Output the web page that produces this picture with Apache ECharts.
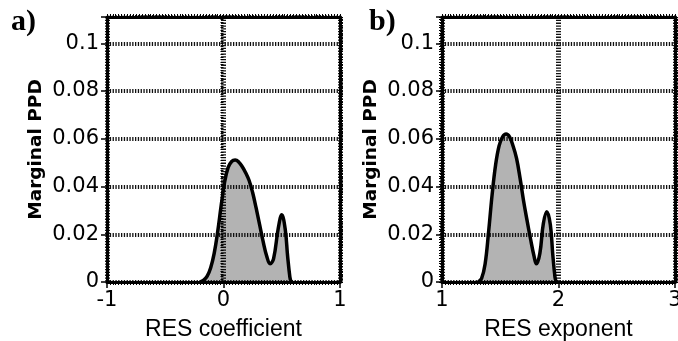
<!DOCTYPE html>
<html>
<head>
<meta charset="utf-8">
<script src="https://cdn.jsdelivr.net/npm/echarts@6/dist/echarts.min.js"></script>
<style>
  html, body { margin: 0; padding: 0; background: #fff; }
  #chart { width: 678px; height: 341px; }
</style>
</head>
<body>
<div id="chart"></div>
<script>
// Panel a) marginal posterior density of the RES coefficient
const coefX = [-0.2, -0.17, -0.14, -0.11, -0.08, -0.05, -0.02, 0.01, 0.04, 0.07, 0.1, 0.13, 0.16, 0.19, 0.22, 0.25, 0.28, 0.31, 0.34, 0.37, 0.4, 0.43, 0.47, 0.5, 0.53, 0.55, 0.57, 0.58];
const coefPPD = [0, 0.0008, 0.0025, 0.006, 0.012, 0.021, 0.032, 0.042, 0.048, 0.0505, 0.0511, 0.0503, 0.0484, 0.0458, 0.0425, 0.0375, 0.031, 0.024, 0.017, 0.011, 0.0076, 0.0098, 0.0225, 0.0282, 0.022, 0.011, 0.002, 0];

// Panel b) marginal posterior density of the RES exponent
const expX = [1.31, 1.34, 1.37, 1.4, 1.43, 1.46, 1.49, 1.52, 1.55, 1.58, 1.61, 1.64, 1.67, 1.7, 1.73, 1.76, 1.79, 1.81, 1.84, 1.87, 1.9, 1.93, 1.95, 1.97, 1.98];
const expPPD = [0, 0.0015, 0.0075, 0.021, 0.0365, 0.049, 0.057, 0.0608, 0.062, 0.0608, 0.057, 0.0518, 0.0435, 0.034, 0.0258, 0.018, 0.0108, 0.0076, 0.012, 0.0245, 0.0294, 0.024, 0.012, 0.002, 0];

// Tick values and their printed labels
const yTicks = [0, 0.02, 0.04, 0.06, 0.08, 0.1];
const yTickLabels = ['0', '0.02', '0.04', '0.06', '0.08', '0.1'];
const coefTicks = [-1, 0, 1];
const coefTickLabels = ['-1', '0', '1'];
const expTicks = [1, 2, 3];
const expTickLabels = ['1', '2', '3'];

const panelTags = ['a)', 'b)'];
const xNames = ['RES coefficient', 'RES exponent'];
const yName = 'Marginal PPD';

const Y_MAX = 0.111;

function labelFor(ticks, labels) {
  return function (v) {
    for (let i = 0; i < ticks.length; i++) {
      if (Math.abs(v - ticks[i]) < 1e-9) return labels[i];
    }
    return '';
  };
}

const frameLine = { show: true, onZero: false, lineStyle: { color: '#000', width: 3 } };
const gridDots = (w) => ({ show: true, lineStyle: { color: '#111', width: w, type: [1.3, 1.5] } });

const panels = [
  { left: 107, xMin: -1, xMax: 1, ticks: coefTicks, labels: coefTickLabels, xs: coefX, ys: coefPPD },
  { left: 442, xMin: 1, xMax: 3, ticks: expTicks, labels: expTickLabels, xs: expX, ys: expPPD }
];

const grid = [], xAxis = [], yAxis = [], series = [];

panels.forEach((p, i) => {
  // fixed plot rectangle; labels may run past the canvas edge
  grid.push({ left: p.left, width: 233, top: 17, bottom: 59, containLabel: false, outerBoundsMode: 'none' });

  // bottom axis: labels, major ticks, dotted vertical grid line
  xAxis.push({
    type: 'value', gridIndex: i, position: 'bottom', min: p.xMin, max: p.xMax, interval: 1,
    name: xNames[i], nameLocation: 'middle', nameGap: 36,
    nameTextStyle: { fontFamily: 'Liberation Sans', fontSize: 23, color: '#000' },
    axisLine: frameLine,
    axisTick: { show: true, inside: false, length: 6, lineStyle: { color: '#000', width: 1.5 } },
    minorTick: { show: true, splitNumber: 40, length: 3, lineStyle: { color: '#000', width: 1 } },
    axisLabel: { show: true, margin: 8, fontFamily: 'DejaVu Sans', fontSize: 21, color: '#000',
                 formatter: labelFor(p.ticks, p.labels) },
    splitLine: gridDots(5), z: 2
  });
  // top frame edge with fine ticks
  xAxis.push({
    type: 'value', gridIndex: i, position: 'top', min: p.xMin, max: p.xMax, interval: 1,
    axisLine: frameLine,
    axisTick: { show: true, inside: false, length: 3, lineStyle: { color: '#000', width: 1 } },
    minorTick: { show: true, splitNumber: 40, length: 3, lineStyle: { color: '#000', width: 1 } },
    axisLabel: { show: false }, splitLine: { show: false }, z: 2
  });

  // left axis: labels, major ticks, dotted horizontal grid lines
  yAxis.push({
    type: 'value', gridIndex: i, position: 'left', min: 0, max: Y_MAX, interval: 0.02,
    name: yName, nameLocation: 'middle', nameGap: 61,
    nameTextStyle: { fontFamily: 'DejaVu Sans', fontWeight: 'bold', fontSize: 18.5, color: '#000' },
    axisLine: frameLine,
    axisTick: { show: true, inside: false, length: 6, lineStyle: { color: '#000', width: 1.5 } },
    axisLabel: { show: true, margin: 8, fontFamily: 'DejaVu Sans', fontSize: 21, color: '#000',
                 formatter: labelFor(yTicks, yTickLabels) },
    splitLine: gridDots(4), z: 2
  });
  // fine ticks on the left edge
  yAxis.push({
    type: 'value', gridIndex: i, position: 'left', min: 0, max: Y_MAX, interval: Y_MAX / 100,
    axisLine: { show: false },
    axisTick: { show: true, inside: false, length: 3, lineStyle: { color: '#000', width: 1 } },
    axisLabel: { show: false }, splitLine: { show: false }, z: 2
  });
  // right frame edge with fine ticks
  yAxis.push({
    type: 'value', gridIndex: i, position: 'right', min: 0, max: Y_MAX, interval: Y_MAX / 100,
    axisLine: frameLine,
    axisTick: { show: true, inside: false, length: 3, lineStyle: { color: '#000', width: 1 } },
    axisLabel: { show: false }, splitLine: { show: false }, z: 2
  });

  const data = p.xs.map((x, k) => [x, p.ys[k]]);
  // grey fill under the density, drawn beneath the grid lines
  series.push({
    type: 'line', xAxisIndex: i * 2, yAxisIndex: i * 3, data: data,
    smooth: 0.4, symbol: 'none', silent: true,
    lineStyle: { width: 0, opacity: 0 },
    areaStyle: { color: '#b3b3b3', opacity: 1 }, z: 1
  });
  // density outline on top
  series.push({
    type: 'line', xAxisIndex: i * 2, yAxisIndex: i * 3, data: data,
    smooth: 0.4, symbol: 'none', silent: true,
    lineStyle: { color: '#000', width: 3.5, join: 'round' }, z: 5
  });
});

const chart = echarts.init(document.getElementById('chart'), null, { renderer: 'canvas' });
chart.setOption({
  animation: false,
  backgroundColor: '#fff',
  grid, xAxis, yAxis, series,
  graphic: [
    { type: 'text', left: 11, top: 7, style: { text: panelTags[0], font: 'bold 30px "Liberation Serif"', fill: '#000' } },
    { type: 'text', left: 369, top: 7, style: { text: panelTags[1], font: 'bold 30px "Liberation Serif"', fill: '#000' } }
  ]
});
</script>
</body>
</html>
